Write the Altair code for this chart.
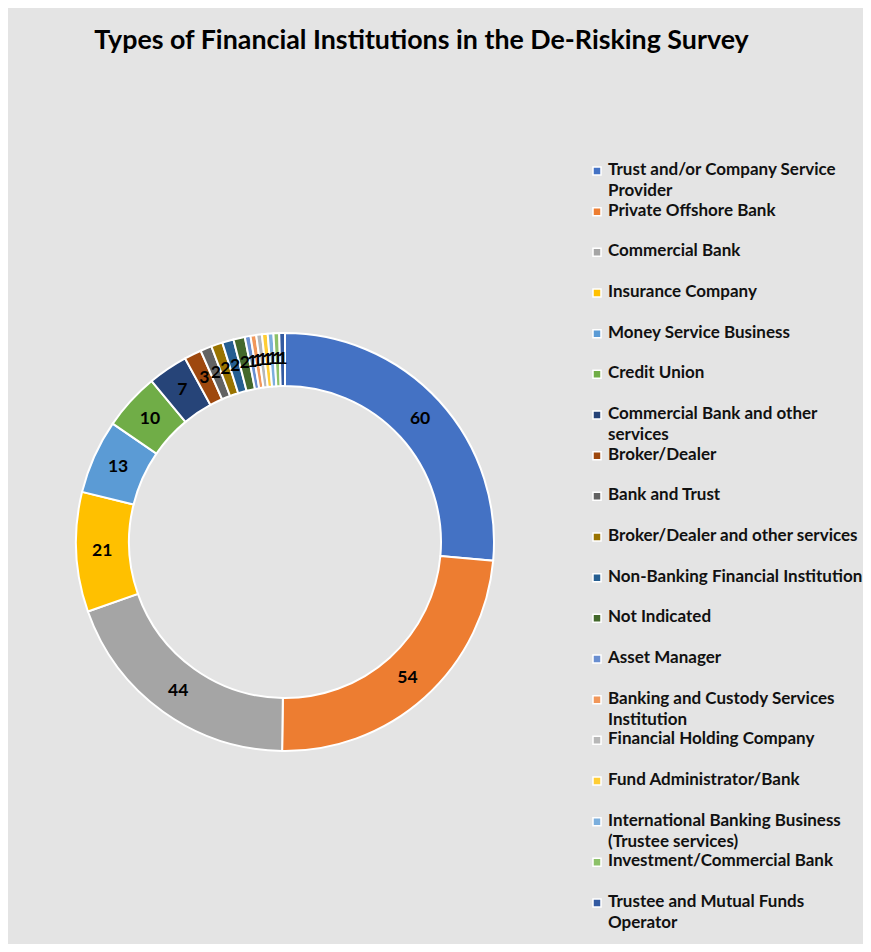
import altair as alt
import pandas as pd

categories = [
    "Trust and/or Company Service Provider",
    "Private Offshore Bank",
    "Commercial Bank",
    "Insurance Company",
    "Money Service Business",
    "Credit Union",
    "Commercial Bank and other services",
    "Broker/Dealer",
    "Bank and Trust",
    "Broker/Dealer and other services",
    "Non-Banking Financial Institution",
    "Not Indicated",
    "Asset Manager",
    "Banking and Custody Services Institution",
    "Financial Holding Company",
    "Fund Administrator/Bank",
    "International Banking Business (Trustee services)",
    "Investment/Commercial Bank",
    "Trustee and Mutual Funds Operator",
]
legend_labels = [
    "Trust and/or Company Service\nProvider",
    "Private Offshore Bank",
    "Commercial Bank",
    "Insurance Company",
    "Money Service Business",
    "Credit Union",
    "Commercial Bank and other\nservices",
    "Broker/Dealer",
    "Bank and Trust",
    "Broker/Dealer and other services",
    "Non-Banking Financial Institution",
    "Not Indicated",
    "Asset Manager",
    "Banking and Custody Services\nInstitution",
    "Financial Holding Company",
    "Fund Administrator/Bank",
    "International Banking Business\n(Trustee services)",
    "Investment/Commercial Bank",
    "Trustee and Mutual Funds\nOperator",
]
values = [60, 54, 44, 21, 13, 10, 7, 3, 2, 2, 2, 2, 1, 1, 1, 1, 1, 1, 1]
colors = [
    "#4472C4", "#ED7D31", "#A5A5A5", "#FFC000", "#5B9BD5", "#70AD47",
    "#264478", "#9E480E", "#636363", "#997300", "#255E91", "#43682B",
    "#698ED0", "#F1975A", "#B7B7B7", "#FFCD33", "#7CAFDD", "#8CC168", "#335AA1",
]

df = pd.DataFrame({
    "cat": categories,
    "label": legend_labels,
    "value": values,
    "idx": list(range(len(categories))),
})

FONT = "Lato"
CX, CY = 277, 474

color = alt.Color("cat:N", sort=categories,
                  scale=alt.Scale(domain=categories, range=colors), legend=None)
theta = alt.Theta("value:Q", stack=True)
order = alt.Order("idx:Q")

base = alt.Chart(df)

arc = base.mark_arc(innerRadius=156, outerRadius=209, stroke="white", strokeWidth=2).encode(
    theta=theta, color=color, order=order, x=alt.value(CX), y=alt.value(CY)
)
arc_text = base.mark_text(radius=183, font=FONT, fontWeight="bold", fontSize=17.5,
                          color="black").encode(
    theta=theta, order=order, text="value:Q", x=alt.value(CX), y=alt.value(CY)
)

ypos = alt.Y("cat:N", sort=categories,
             scale=alt.Scale(type="point", range=[103, 835], padding=0), axis=None)
leg_sym = base.mark_square(size=64, stroke="white", strokeWidth=1.5, opacity=1).encode(
    x=alt.value(589), y=ypos, color=color
)
leg_text = base.mark_text(align="left", baseline="top", dy=-9, lineBreak="\n",
                          lineHeight=21, font=FONT, fontWeight="bold", fontSize=17,
                          color="#111111").encode(
    x=alt.value(600), y=ypos, text="label:N"
)

chart = alt.layer(arc, arc_text, leg_sym, leg_text).properties(
    width=855,
    height=876,
    padding={"left": 0, "top": 60, "right": 0, "bottom": 0},
    autosize=alt.AutoSizeParams(type="none"),
    background="#E4E4E4",
    title=alt.TitleParams(
        "Types of Financial Institutions in the De-Risking Survey",
        font=FONT, fontSize=26.8, fontWeight="bold", color="black",
        anchor="middle", baseline="alphabetic", offset=17, dx=-14, dy=25,
    ),
).configure_view(stroke=None)

chart.save("out.html", embed_options={"renderer": "svg", "actions": False})
